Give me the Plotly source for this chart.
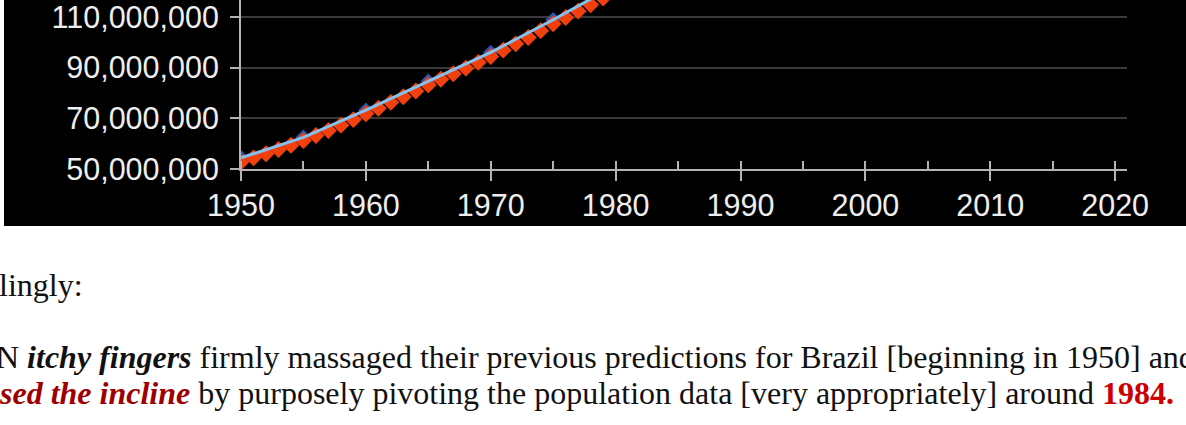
import plotly.graph_objects as go

# ---- data ----
years_annual = list(range(1950, 1981))
pop_annual = [52.8, 54.4, 56.0, 57.7, 59.4, 61.2, 63.2, 65.2, 67.3, 69.5,
              71.8, 74.0, 76.3, 78.5, 80.8, 83.2, 85.4, 87.6, 89.8, 92.1,
              94.4, 96.9, 99.4, 101.9, 104.6, 107.3, 109.8, 112.3, 114.8, 117.5,
              120.3]  # millions
years_5 = [1950, 1955, 1960, 1965, 1970, 1975, 1980]
pop_5 = [54.4, 62.5, 73.2, 84.6, 96.0, 108.9, 122.5]  # millions

x_ticks = [1950, 1960, 1970, 1980, 1990, 2000, 2010, 2020]
y_ticks = [50_000_000, 70_000_000, 90_000_000, 110_000_000]

M = 1_000_000
fig = go.Figure()
fig.add_trace(go.Scatter(
    x=years_5, y=[v * M for v in pop_5], mode="markers",
    marker=dict(symbol="diamond", size=12, color="#2b55ad"),
    showlegend=False, cliponaxis=True))
fig.add_trace(go.Scatter(
    x=years_annual, y=[v * M for v in pop_annual], mode="markers",
    marker=dict(symbol="diamond", size=13, color="#f2400c"),
    showlegend=False, cliponaxis=True))
fig.add_trace(go.Scatter(
    x=years_5, y=[v * M for v in pop_5], mode="lines",
    line=dict(color="#86c0ec", width=3),
    showlegend=False, cliponaxis=True))

W, H = 1186, 425
L, R, T, B = 241, 59, 0, 256
pw, ph = W - L - R, H - T - B

def px(x):
    return (x - L) / pw

def py(y):
    return (H - B - y) / ph

tick_font = dict(family="Liberation Sans", size=30.5, color="#eeeeee")
fig.update_layout(
    width=W, height=H,
    margin=dict(l=L, r=R, t=T, b=B, pad=0),
    paper_bgcolor="white", plot_bgcolor="black",
    xaxis=dict(range=[1950, 2020.95], tickvals=x_ticks, ticktext=[str(v) for v in x_ticks],
               showgrid=False, zeroline=False,
               showline=True, linecolor="#b3b3b3", linewidth=2,
               ticks="outside", ticklen=10, tickwidth=2, tickcolor="#b3b3b3",
               tickfont=tick_font, ticklabelstandoff=-2, ticklabeloverflow="allow",
               minor=dict(dtick=5, tick0=1955, ticks="inside", ticklen=8,
                          tickwidth=2, tickcolor="#b3b3b3", showgrid=False)),
    yaxis=dict(range=[50_000_000, 116_700_000], tickvals=y_ticks,
               tickformat=",", showgrid=True, gridcolor="#3a3a3a", gridwidth=2,
               zeroline=False,
               showline=True, linecolor="#b3b3b3", linewidth=2,
               ticks="outside", ticklen=9, tickwidth=2, tickcolor="#b3b3b3",
               tickfont=tick_font, ticklabelstandoff=5, ticklabeloverflow="allow"),
    shapes=[
        dict(type="rect", xref="paper", yref="paper",
             x0=px(4), x1=px(W + 5), y0=py(226), y1=py(-5),
             fillcolor="black", line=dict(width=0), layer="below"),
    ],
)

serif = "Liberation Serif"
fs = 32
ann = [
    dict(x=px(-3), y=py(285), text="lingly:"),
    dict(x=px(-6), y=py(357),
         text="N <b><i>itchy fingers</i></b> firmly massaged their previous predictions "
              "for Brazil [beginning in 1950] and"),
    dict(x=px(-3), y=py(393),
         text="<span style='color:#9e0000'><b><i>sed the incline</i></b></span> by purposely "
              "pivoting the population data [very appropriately] around "
              "<span style='color:#cc0000'><b>1984.</b></span>"),
]
for a in ann:
    fig.add_annotation(xref="paper", yref="paper", xanchor="left", yanchor="middle",
                       showarrow=False, align="left",
                       font=dict(family=serif, size=fs, color="#111111"), **a)

fig.write_html("out.html", config={"displayModeBar": False},
               post_script="document.body.style.margin='0';")
